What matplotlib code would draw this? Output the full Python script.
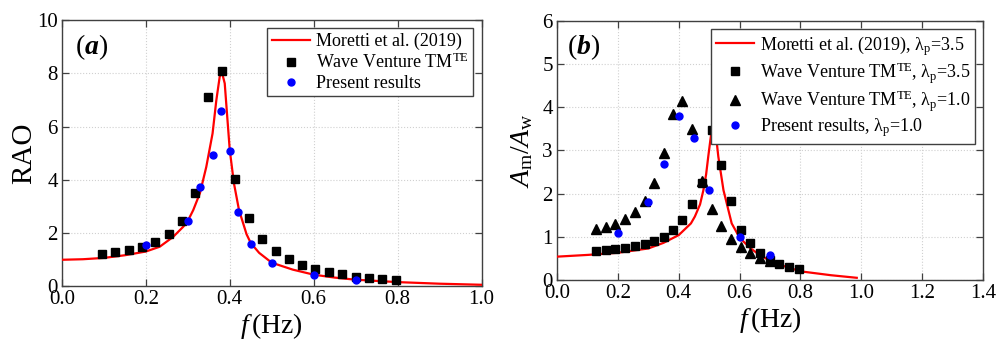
import matplotlib
matplotlib.use("Agg")
import matplotlib.pyplot as plt

plt.rcParams["font.family"] = ["Liberation Serif", "DejaVu Serif"]
plt.rcParams["mathtext.fontset"] = "custom"
plt.rcParams["mathtext.rm"] = "Liberation Serif"
plt.rcParams["mathtext.it"] = "Liberation Serif:italic"
plt.rcParams["mathtext.bf"] = "Liberation Serif:italic:bold"

# (a) RAO
moretti_a_f = [0.0, 0.05, 0.10, 0.15, 0.20, 0.233, 0.265, 0.289, 0.30, 0.313, 0.329, 0.344,
               0.359, 0.368, 0.376, 0.381, 0.388, 0.394, 0.400, 0.410, 0.422, 0.44, 0.45,
               0.47, 0.50, 0.55, 0.60, 0.65, 0.70, 0.80, 0.90, 1.00]
moretti_a_rao = [0.99, 1.01, 1.06, 1.16, 1.30, 1.48, 1.85, 2.23, 2.45, 2.86, 3.5, 4.48,
                 5.74, 6.99, 7.87, 8.06, 7.62, 6.36, 5.11, 3.86, 2.86, 1.95, 1.62,
                 1.25, 0.88, 0.62, 0.43, 0.32, 0.24, 0.15, 0.09, 0.05]
wv_a_f = [0.095, 0.127, 0.160, 0.191, 0.222, 0.254, 0.286, 0.317, 0.349, 0.382, 0.413, 0.445,
          0.477, 0.509, 0.540, 0.572, 0.604, 0.636, 0.668, 0.700, 0.733, 0.764, 0.796]
wv_a_rao = [1.22, 1.27, 1.36, 1.47, 1.67, 1.96, 2.46, 3.51, 7.10, 8.07, 4.03, 2.55,
            1.77, 1.32, 1.02, 0.80, 0.66, 0.53, 0.44, 0.36, 0.30, 0.26, 0.23]
present_a_f = [0.20, 0.30, 0.33, 0.36, 0.38, 0.40, 0.42, 0.45, 0.50, 0.60, 0.70]
present_a_rao = [1.53, 2.46, 3.73, 4.94, 6.60, 5.07, 2.80, 1.58, 0.87, 0.43, 0.23]

# (b) Am/Aw
moretti_b_f = [0.0, 0.1, 0.2, 0.3, 0.35, 0.40, 0.44, 0.453, 0.47, 0.481, 0.49, 0.497, 0.505,
               0.512, 0.52, 0.53, 0.547, 0.574, 0.60, 0.633, 0.667, 0.70, 0.733, 0.80, 0.90, 0.985]
moretti_b_amp = [0.54, 0.58, 0.63, 0.73, 0.86, 1.04, 1.31, 1.47, 1.75, 2.08, 2.45, 2.86, 3.3,
                 3.63, 3.5, 2.86, 2.08, 1.31, 0.98, 0.75, 0.57, 0.45, 0.35, 0.20, 0.11, 0.05]
wv35_f = [0.128, 0.161, 0.192, 0.224, 0.256, 0.288, 0.319, 0.350, 0.381, 0.412, 0.444,
          0.476, 0.509, 0.539, 0.571, 0.603, 0.635, 0.667, 0.699, 0.731, 0.763, 0.795]
wv35_amp = [0.68, 0.69, 0.71, 0.74, 0.78, 0.83, 0.91, 1.00, 1.16, 1.39, 1.77,
            2.24, 3.48, 2.66, 1.83, 1.16, 0.85, 0.62, 0.46, 0.37, 0.31, 0.25]
wv10_f = [0.128, 0.161, 0.192, 0.224, 0.256, 0.288, 0.319, 0.350, 0.381, 0.412, 0.444,
          0.476, 0.509, 0.539, 0.571, 0.603, 0.635, 0.667, 0.699]
wv10_amp = [1.17, 1.23, 1.30, 1.42, 1.58, 1.84, 2.25, 2.95, 3.85, 4.14, 3.50,
            2.29, 1.64, 1.25, 0.96, 0.77, 0.63, 0.52, 0.44]
present_b_f = [0.20, 0.30, 0.35, 0.40, 0.45, 0.50, 0.60, 0.70]
present_b_amp = [1.09, 1.80, 2.68, 3.79, 3.28, 2.09, 0.99, 0.58]

fig = plt.figure(figsize=(9.99, 3.41), dpi=100)
ax1 = fig.add_axes([0.062, 0.161, 0.420, 0.780])
ax2 = fig.add_axes([0.5576, 0.179, 0.4264, 0.7595])

red = "#ff0000"
blue = "#0000ff"

ax1.plot(moretti_a_f, moretti_a_rao, color=red, lw=1.6, label="Moretti et al. (2019)", zorder=3)
ax1.plot(wv_a_f, wv_a_rao, "s", color="black", ms=6, ls="none",
         label=r"Wave Venture TM$^{\rm TE}$", zorder=4)
ax1.plot(present_a_f, present_a_rao, "o", color=blue, ms=5, ls="none",
         label="Present results", zorder=5)

ax2.plot(moretti_b_f, moretti_b_amp, color=red, lw=1.6,
         label=r"Moretti et al. (2019), λ$_{\rm p}$=3.5", zorder=3)
ax2.plot(wv35_f, wv35_amp, "s", color="black", ms=6, ls="none",
         label=r"Wave Venture TM$^{\rm TE}$, λ$_{\rm p}$=3.5", zorder=4)
ax2.plot(wv10_f, wv10_amp, "^", color="black", ms=6.5, ls="none",
         label=r"Wave Venture TM$^{\rm TE}$, λ$_{\rm p}$=1.0", zorder=4)
ax2.plot(present_b_f, present_b_amp, "o", color=blue, ms=5, ls="none",
         label=r"Present results, λ$_{\rm p}$=1.0", zorder=5)

ax1.set_xlim(0, 1.0)
ax1.set_ylim(0, 10)
ax1.set_xticks([0.0, 0.2, 0.4, 0.6, 0.8, 1.0])
ax1.set_yticks([0, 2, 4, 6, 8, 10])
ax1.set_ylabel("RAO", fontsize=21, labelpad=0)

ax2.set_xlim(0, 1.4)
ax2.set_ylim(0, 6)
ax2.set_xticks([0.0, 0.2, 0.4, 0.6, 0.8, 1.0, 1.2, 1.4])
ax2.set_yticks([0, 1, 2, 3, 4, 5, 6])
ax2.set_ylabel(r"$A_{\rm m}/A_{\rm w}$", fontsize=20, labelpad=5)

for ax, tag, tx in [(ax1, "a", 0.03), (ax2, "b", 0.023)]:
    ax.set_xticklabels([f"{t:.1f}" for t in ax.get_xticks()])
    ax.set_xlabel(r"$f\,$(Hz)", fontsize=20, labelpad=1)
    ax.tick_params(direction="in", top=True, right=True, labelsize=15,
                   length=5, width=0.9, color="#404040", pad=3)
    ax.grid(True, ls=":", color="#d0d0d0", lw=0.8)
    for s in ax.spines.values():
        s.set_color("#404040")
        s.set_linewidth(1.0)
    ax.text(tx, 0.9, rf"($\mathbf{{{tag}}}$)", transform=ax.transAxes,
            fontsize=20, va="center", ha="left")
    leg = ax.legend(loc="upper right", fontsize=13, frameon=True, fancybox=False,
                    framealpha=1, edgecolor="#404040", handlelength=2.1,
                    borderaxespad=0.45, labelspacing=0.15, handletextpad=0.35,
                    borderpad=0.25)
    leg.get_frame().set_linewidth(1.0)

fig.savefig("out.png", dpi=100)
plt.close(fig)
